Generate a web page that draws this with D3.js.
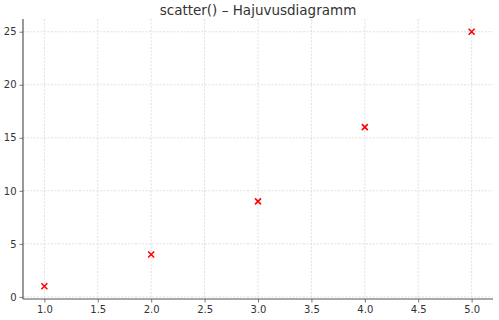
<!DOCTYPE html>
<html>
<head>
<meta charset="utf-8">
<script src="https://cdn.jsdelivr.net/npm/d3@7"></script>
<style>
  body { margin: 0; background: #fff; }
  text { font-family: "DejaVu Sans", sans-serif; }
</style>
</head>
<body>
<div id="chart"></div>
<script>
const xValues = [1, 2, 3, 4, 5]
const yValues = [1, 4, 9, 16, 25]
const xTicks = [1.0, 1.5, 2.0, 2.5, 3.0, 3.5, 4.0, 4.5, 5.0]
const yTicks = [0, 5, 10, 15, 20, 25]
const title = "scatter() – Hajuvusdiagramm"

const W = 499, H = 320
const MARGIN = {TOP: 19, BOTTOM: 21, LEFT: 23, RIGHT: 6}
const WIDTH = W - MARGIN.LEFT - MARGIN.RIGHT
const HEIGHT = H - MARGIN.TOP - MARGIN.BOTTOM

const svg = d3.select("#chart").append("svg")
    .attr("width", W)
    .attr("height", H)

const g = svg.append("g")
    .attr("transform", `translate(${MARGIN.LEFT}, ${MARGIN.TOP})`)

// matplotlib style 5% margins
const x = d3.scaleLinear().domain([0.8, 5.2]).range([0, WIDTH])
const y = d3.scaleLinear().domain([-0.2, 26.2]).range([HEIGHT, 0])

// grid
g.append("g").selectAll("line").data(xTicks).join("line")
    .attr("x1", d => x(d)).attr("x2", d => x(d))
    .attr("y1", 0).attr("y2", HEIGHT)
    .attr("stroke", "#d8d8d8").attr("stroke-width", 0.8)
    .attr("stroke-dasharray", "2,1.5")
g.append("g").selectAll("line").data(yTicks).join("line")
    .attr("y1", d => y(d)).attr("y2", d => y(d))
    .attr("x1", 0).attr("x2", WIDTH)
    .attr("stroke", "#d8d8d8").attr("stroke-width", 0.8)
    .attr("stroke-dasharray", "2,1.5")

const xAxis = g.append("g")
    .attr("transform", `translate(0, ${HEIGHT})`)
    .call(d3.axisBottom(x).tickValues(xTicks).tickFormat(d3.format(".1f")).tickSizeOuter(0).tickSize(3.5).tickPadding(3))
const yAxis = g.append("g")
    .call(d3.axisLeft(y).tickValues(yTicks).tickFormat(d3.format("d")).tickSizeOuter(0).tickSize(3.5).tickPadding(3))

for (const ax of [xAxis, yAxis]) {
    ax.select(".domain").attr("stroke", "#555").attr("stroke-width", 1.2)
    ax.selectAll(".tick line").attr("stroke", "#555").attr("stroke-width", 0.8)
    ax.selectAll(".tick text").attr("fill", "#333").style("font-size", "10px")
        .style("font-family", "DejaVu Sans")
}
// make spines span whole plot
xAxis.select(".domain").attr("d", `M0,0H${WIDTH}`)
yAxis.select(".domain").attr("d", `M0,0V${HEIGHT}`)

// markers
const s = 3
g.append("g").selectAll("path").data(xValues).join("path")
    .attr("d", (d, i) => {
        const cx = x(d), cy = y(yValues[i])
        return `M${cx - s},${cy - s}L${cx + s},${cy + s}M${cx - s},${cy + s}L${cx + s},${cy - s}`
    })
    .attr("stroke", "red").attr("stroke-width", 1.6).attr("fill", "none")

svg.append("text")
    .attr("x", MARGIN.LEFT + WIDTH / 2)
    .attr("y", 15)
    .attr("text-anchor", "middle")
    .attr("fill", "#333")
    .style("font-size", "13.5px")
    .text(title)
</script>
</body>
</html>
